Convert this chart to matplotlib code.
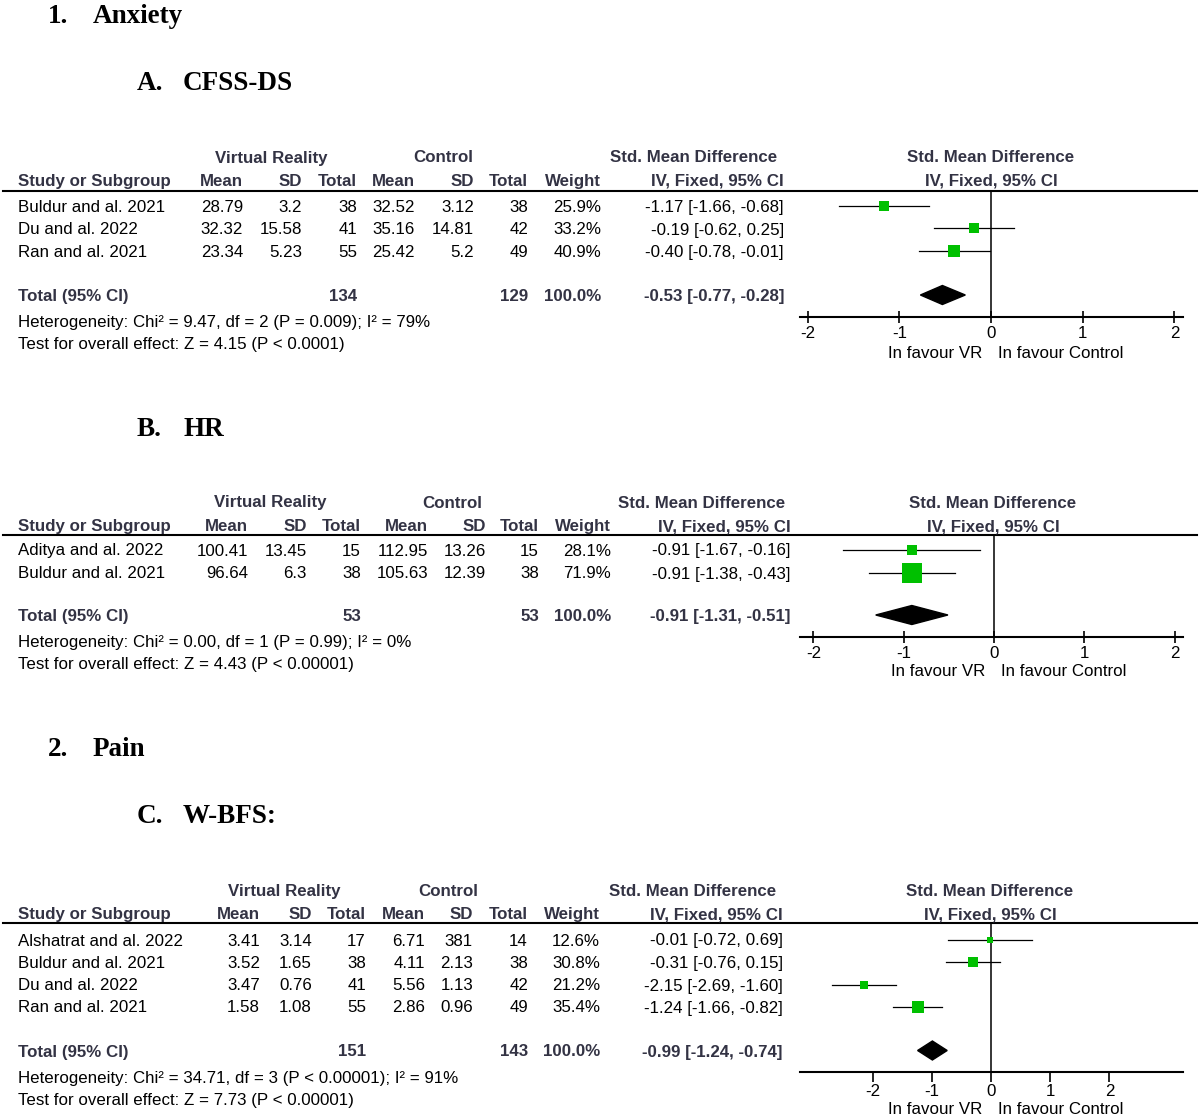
import matplotlib
matplotlib.use("Agg")
import matplotlib.pyplot as plt
from matplotlib.patches import Polygon
from matplotlib.transforms import blended_transform_factory

plt.rcParams['axes.unicode_minus'] = False

# ---- data: A. CFSS-DS ----
a_studies   = ["Buldur and al. 2021", "Du and al. 2022", "Ran and al. 2021"]
a_vr_mean   = [28.79, 32.32, 23.34]
a_vr_sd     = [3.2, 15.58, 5.23]
a_vr_n      = [38, 41, 55]
a_ctl_mean  = [32.52, 35.16, 25.42]
a_ctl_sd    = [3.12, 14.81, 5.2]
a_ctl_n     = [38, 42, 49]
a_weight    = [25.9, 33.2, 40.9]
a_smd       = [-1.17, -0.19, -0.40]
a_lo        = [-1.66, -0.62, -0.78]
a_hi        = [-0.68, 0.25, -0.01]
a_total     = [-0.53, -0.77, -0.28]
a_het       = "Heterogeneity: Chi² = 9.47, df = 2 (P = 0.009); I² = 79%"
a_test      = "Test for overall effect: Z = 4.15 (P < 0.0001)"

# ---- data: B. HR ----
b_studies   = ["Aditya and al. 2022", "Buldur and al. 2021"]
b_vr_mean   = [100.41, 96.64]
b_vr_sd     = [13.45, 6.3]
b_vr_n      = [15, 38]
b_ctl_mean  = [112.95, 105.63]
b_ctl_sd    = [13.26, 12.39]
b_ctl_n     = [15, 38]
b_weight    = [28.1, 71.9]
b_smd       = [-0.91, -0.91]
b_lo        = [-1.67, -1.38]
b_hi        = [-0.16, -0.43]
b_total     = [-0.91, -1.31, -0.51]
b_het       = "Heterogeneity: Chi² = 0.00, df = 1 (P = 0.99); I² = 0%"
b_test      = "Test for overall effect: Z = 4.43 (P < 0.00001)"

# ---- data: C. W-BFS ----
c_studies   = ["Alshatrat and al. 2022", "Buldur and al. 2021", "Du and al. 2022", "Ran and al. 2021"]
c_vr_mean   = [3.41, 3.52, 3.47, 1.58]
c_vr_sd     = [3.14, 1.65, 0.76, 1.08]
c_vr_n      = [17, 38, 41, 55]
c_ctl_mean  = [6.71, 4.11, 5.56, 2.86]
c_ctl_sd    = [381, 2.13, 1.13, 0.96]
c_ctl_n     = [14, 38, 42, 49]
c_weight    = [12.6, 30.8, 21.2, 35.4]
c_smd       = [-0.01, -0.31, -2.15, -1.24]
c_lo        = [-0.72, -0.76, -2.69, -1.66]
c_hi        = [0.69, 0.15, -1.60, -0.82]
c_total     = [-0.99, -1.24, -0.74]
c_het       = "Heterogeneity: Chi² = 34.71, df = 3 (P < 0.00001); I² = 91%"
c_test      = "Test for overall effect: Z = 7.73 (P < 0.00001)"

ticks = [-2, -1, 0, 1, 2]

W, H = 1200, 1117
FS = 12.2
SANS = "Liberation Sans"
SERIF = "Liberation Serif"
HDR = "#333344"
GREEN = "#00c000"

fig = plt.figure(figsize=(W / 100, H / 100), dpi=100)
bg = fig.add_axes([0, 0, 1, 1])
bg.set_xlim(0, W)
bg.set_ylim(H, 0)
bg.axis("off")


def txt(x, yc, s, ha="left", bold=False, color="black"):
    # yc is the visual middle of the capitals
    bg.text(x, yc + 6, s, ha=ha, va="baseline", fontsize=FS, family=SANS,
            fontweight="bold" if bold else "normal", color=color)


def heading(x1, x2, yb, num, label):
    bg.text(x1, yb, num, fontsize=19.5, family=SERIF, fontweight="bold", va="baseline")
    bg.text(x2, yb, label, fontsize=19.5, family=SERIF, fontweight="bold", va="baseline")


def panel(studies, vm, vs, vn, cm, cs, cn, wt, smd, lo, hi, tot, het, test,
          cols, ys, forest):
    (mx, sx, nx, cmx, csx, cnx, wx, cix, vrc, ctc, smc, frc) = cols
    (y_grp, y_col, y_rows, y_tot, y_het, y_test) = ys
    line_y, axis_y, zero_px, ppu, tick_dir, y_fav = forest

    # group headers
    txt(vrc, y_grp, "Virtual Reality", ha="center", bold=True, color=HDR)
    txt(ctc, y_grp, "Control", ha="center", bold=True, color=HDR)
    txt(smc, y_grp, "Std. Mean Difference", ha="center", bold=True, color=HDR)
    txt(frc, y_grp, "Std. Mean Difference", ha="center", bold=True, color=HDR)
    txt(18, y_col, "Study or Subgroup", bold=True, color=HDR)
    for x, s in zip([mx, sx, nx, cmx, csx, cnx, wx, cix],
                    ["Mean", "SD", "Total", "Mean", "SD", "Total", "Weight",
                     "IV, Fixed, 95% CI"]):
        txt(x, y_col, s, ha="right", bold=True, color=HDR)
    txt(frc, y_col, "IV, Fixed, 95% CI", ha="center", bold=True, color=HDR)
    bg.plot([3, 1197], [line_y, line_y], color="black", lw=1.5)

    # study rows
    for i, name in enumerate(studies):
        y = y_rows[i]
        txt(18, y, name)
        txt(mx, y, f"{vm[i]:g}", ha="right")
        txt(sx, y, f"{vs[i]:g}", ha="right")
        txt(nx, y, f"{vn[i]}", ha="right")
        txt(cmx, y, f"{cm[i]:g}", ha="right")
        txt(csx, y, f"{cs[i]:g}", ha="right")
        txt(cnx, y, f"{cn[i]}", ha="right")
        txt(wx, y, f"{wt[i]:.1f}%", ha="right")
        txt(cix, y, f"{smd[i]:.2f} [{lo[i]:.2f}, {hi[i]:.2f}]", ha="right")

    # totals
    txt(18, y_tot, "Total (95% CI)", bold=True, color=HDR)
    txt(nx, y_tot, f"{sum(vn)}", ha="right", bold=True, color=HDR)
    txt(cnx, y_tot, f"{sum(cn)}", ha="right", bold=True, color=HDR)
    txt(wx, y_tot, f"{sum(wt):.1f}%", ha="right", bold=True, color=HDR)
    txt(cix, y_tot, f"{tot[0]:.2f} [{tot[1]:.2f}, {tot[2]:.2f}]", ha="right",
        bold=True, color=HDR)
    txt(18, y_het, het)
    txt(18, y_test, test)

    # forest axes: x in SMD units, y in page pixels
    left_px, right_px = 800, 1183
    axf = fig.add_axes([left_px / W, 1 - axis_y / H,
                        (right_px - left_px) / W, (axis_y - line_y) / H])
    axf.set_xlim((left_px - zero_px) / ppu, (right_px - zero_px) / ppu)
    axf.set_ylim(axis_y, line_y)
    axf.patch.set_visible(False)
    for sp in ["top", "left", "right"]:
        axf.spines[sp].set_visible(False)
    axf.spines["bottom"].set_linewidth(1.5)
    axf.set_yticks([])
    axf.set_xticks(ticks)
    axf.set_xticklabels([str(t) for t in ticks], fontsize=FS, family=SANS)
    axf.tick_params(axis="x", direction=tick_dir, length=8 if tick_dir == "inout" else 7,
                    width=1.2, pad=2.5 if tick_dir == "inout" else 1.5)
    axf.axvline(0, color="black", lw=1.1)

    for i in range(len(studies)):
        y = y_rows[i]
        axf.plot([lo[i], hi[i]], [y, y], color="black", lw=0.9)
        side = (3 + 0.24 * wt[i]) * 0.72
        axf.scatter([smd[i]], [y], marker="s", s=side ** 2, color=GREEN,
                    linewidths=0, zorder=3)
    dh = 9.5
    axf.add_patch(Polygon([(tot[1], y_tot), (tot[0], y_tot - dh),
                           (tot[2], y_tot), (tot[0], y_tot + dh)],
                          closed=True, color="black", zorder=3))

    tr = blended_transform_factory(axf.transData, bg.transData)
    bg.annotate("In favour VR", xy=(0, y_fav + 6), xycoords=tr, xytext=(-6, 0),
                textcoords="offset points", ha="right", va="baseline",
                fontsize=FS, family=SANS)
    bg.annotate("In favour Control", xy=(0, y_fav + 6), xycoords=tr, xytext=(5, 0),
                textcoords="offset points", ha="left", va="baseline",
                fontsize=FS, family=SANS)


heading(48, 93, 23, "1.", "Anxiety")
heading(137, 183, 90, "A.", "CFSS-DS")
heading(137, 183, 436, "B.", "HR")
heading(48, 93, 756, "2.", "Pain")
heading(137, 183, 823, "C.", "W-BFS:")

panel(a_studies, a_vr_mean, a_vr_sd, a_vr_n, a_ctl_mean, a_ctl_sd, a_ctl_n,
      a_weight, a_smd, a_lo, a_hi, a_total, a_het, a_test,
      cols=(243, 302, 357, 415, 474, 528, 601, 784, 271, 443, 694, 991),
      ys=(156.5, 180, [206, 228.5, 251], 295, 320.5, 343.5),
      forest=(190.7, 317, 991, 91.7, "inout", 352))

panel(b_studies, b_vr_mean, b_vr_sd, b_vr_n, b_ctl_mean, b_ctl_sd, b_ctl_n,
      b_weight, b_smd, b_lo, b_hi, b_total, b_het, b_test,
      cols=(248, 307, 361, 428, 486, 539, 611, 791, 270, 452, 702, 993),
      ys=(501.5, 525, [549.5, 572.5], 615, 640.5, 663.5),
      forest=(535, 637, 994, 90.3, "inout", 670))

panel(c_studies, c_vr_mean, c_vr_sd, c_vr_n, c_ctl_mean, c_ctl_sd, c_ctl_n,
      c_weight, c_smd, c_lo, c_hi, c_total, c_het, c_test,
      cols=(260, 312, 366, 425, 473, 528, 600, 783, 284, 448, 693, 990),
      ys=(890, 913, [939.5, 962, 984.5, 1006.5], 1050.5, 1076.5, 1099.5),
      forest=(923, 1072, 991, 59.2, "out", 1108))

fig.savefig("out.png", dpi=100)
